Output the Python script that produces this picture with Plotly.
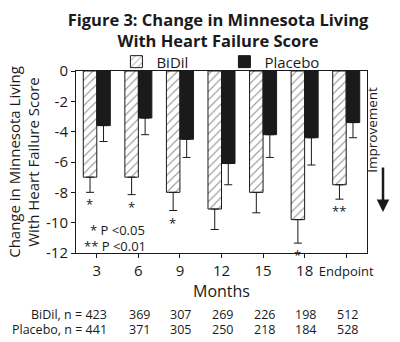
import plotly.graph_objects as go

months = ['3', '6', '9', '12', '15', '18', 'Endpoint']
bidil = [-7.0, -7.0, -8.0, -9.1, -8.0, -9.8, -7.5]
bidil_err = [1.0, 1.15, 1.2, 1.35, 1.35, 1.55, 0.95]
placebo = [-3.6, -3.1, -4.5, -6.1, -4.2, -4.4, -3.4]
placebo_err = [1.05, 1.1, 1.2, 1.4, 1.5, 1.8, 1.0]
sig = ['*', '*', '*', '', '', '*', '**']
n_bidil = [423, 369, 307, 269, 226, 198, 512]
n_placebo = [441, 371, 305, 250, 218, 184, 528]

FONT = "Open Sans"
INK = "#1a1a1a"

fig = go.Figure()
fig.add_trace(go.Bar(
    x=months, y=bidil, name='BiDil',
    marker=dict(color='white', line=dict(color=INK, width=1),
                pattern=dict(shape='/', fgcolor=INK, bgcolor='white', size=6, solidity=0.18)),
    error_y=dict(type='data', symmetric=False, array=[0]*7, arrayminus=bidil_err,
                 color=INK, thickness=1, width=4),
))
fig.add_trace(go.Bar(
    x=months, y=placebo, name='Placebo',
    marker=dict(color=INK, line=dict(color=INK, width=1)),
    error_y=dict(type='data', symmetric=False, array=[0]*7, arrayminus=placebo_err,
                 color=INK, thickness=1, width=4),
))

annotations = []
for i, (v, e, s) in enumerate(zip(bidil, bidil_err, sig)):
    if s:
        annotations.append(dict(x=i, y=v - e, xref='x', yref='y', text=s, showarrow=False,
                                xshift=-7, yanchor='top', yshift=-1,
                                font=dict(size=13, color=INK, family=FONT)))

annotations.append(dict(x=0.04, y=0.126, xref='paper', yref='paper', text='* P <0.05',
                        showarrow=False, xanchor='left', yanchor='middle',
                        font=dict(size=13, color=INK, family=FONT)))
annotations.append(dict(x=0.02, y=0.04, xref='paper', yref='paper', text='** P <0.01',
                        showarrow=False, xanchor='left', yanchor='middle',
                        font=dict(size=13, color=INK, family=FONT)))

# Improvement label and arrow
annotations.append(dict(x=1.055, y=0.43, xref='paper', yref='paper', text='Improvement',
                        textangle=-90, showarrow=False, yanchor='bottom',
                        font=dict(size=13.5, color=INK, family=FONT)))
annotations.append(dict(x=1.055, y=0.225, xref='paper', yref='paper', ax=0, ay=-46,
                        text='', showarrow=True,
                        arrowhead=2, arrowsize=1.0, arrowwidth=2.5, arrowcolor=INK))

# sample size table
for i in range(len(months)):
    t1 = f'BiDil, n = {n_bidil[i]}' if i == 0 else str(n_bidil[i])
    t2 = f'Placebo, n = {n_placebo[i]}' if i == 0 else str(n_placebo[i])
    xa = 'right' if i == 0 else 'center'
    xs = 12 if i == 0 else 1
    annotations.append(dict(x=i, y=-0.34, xref='x', yref='paper', text=t1, showarrow=False,
                            xanchor=xa, yanchor='middle', xshift=xs,
                            font=dict(size=12.5, color=INK, family=FONT)))
    annotations.append(dict(x=i, y=-0.42, xref='x', yref='paper', text=t2, showarrow=False,
                            xanchor=xa, yanchor='middle', xshift=xs,
                            font=dict(size=12.5, color=INK, family=FONT)))

ticktext = [m if m != 'Endpoint' else '<span style="font-size:13px">Endpoint</span>' for m in months]

fig.update_layout(
    width=400, height=342,
    margin=dict(l=76, r=33, t=71, b=89),
    paper_bgcolor='white', plot_bgcolor='white',
    font=dict(family=FONT, color=INK, size=13),
    title=dict(text='<b>Figure 3: Change in Minnesota Living<br>With Heart Failure Score</b>',
               x=0.545, xanchor='center', yref='container', y=0.925, yanchor='middle',
               font=dict(size=16.5, family=FONT, color=INK)),
    barmode='group', bargap=0.35, bargroupgap=0,
    showlegend=True,
    legend=dict(orientation='h', x=0.51, xanchor='center', y=1.05, yanchor='middle',
                bgcolor='rgba(0,0,0,0)',
                font=dict(size=15, family=FONT, color=INK), traceorder='normal',
                itemwidth=30, entrywidth=63),
    xaxis=dict(type='category', tickmode='array', tickvals=months, ticktext=ticktext,
               range=[-0.5, len(months) - 0.5], autorange=False,
               showline=True, linecolor=INK, linewidth=1, mirror=True,
               ticks='outside', ticklen=4, tickcolor=INK, tickangle=0,
               tickfont=dict(size=15, family=FONT, color=INK),
               title=dict(text='Months', font=dict(size=16, family=FONT, color=INK), standoff=0)),
    yaxis=dict(range=[-12, 0], tickvals=[0, -2, -4, -6, -8, -10, -12],
               ticktext=['0', '-2', '-4', '-6', '-8', '-10', '-12'],
               showline=True, linecolor=INK, linewidth=1, mirror=True,
               ticks='outside', ticklen=4, tickcolor=INK, showgrid=False, zeroline=False,
               tickfont=dict(size=15, family=FONT, color=INK),
               title=dict(text='Change in Minnesota Living<br>With Heart Failure Score',
                          font=dict(size=15, family=FONT, color=INK), standoff=2)),
    annotations=annotations,
)

fig.write_html("out.html")
